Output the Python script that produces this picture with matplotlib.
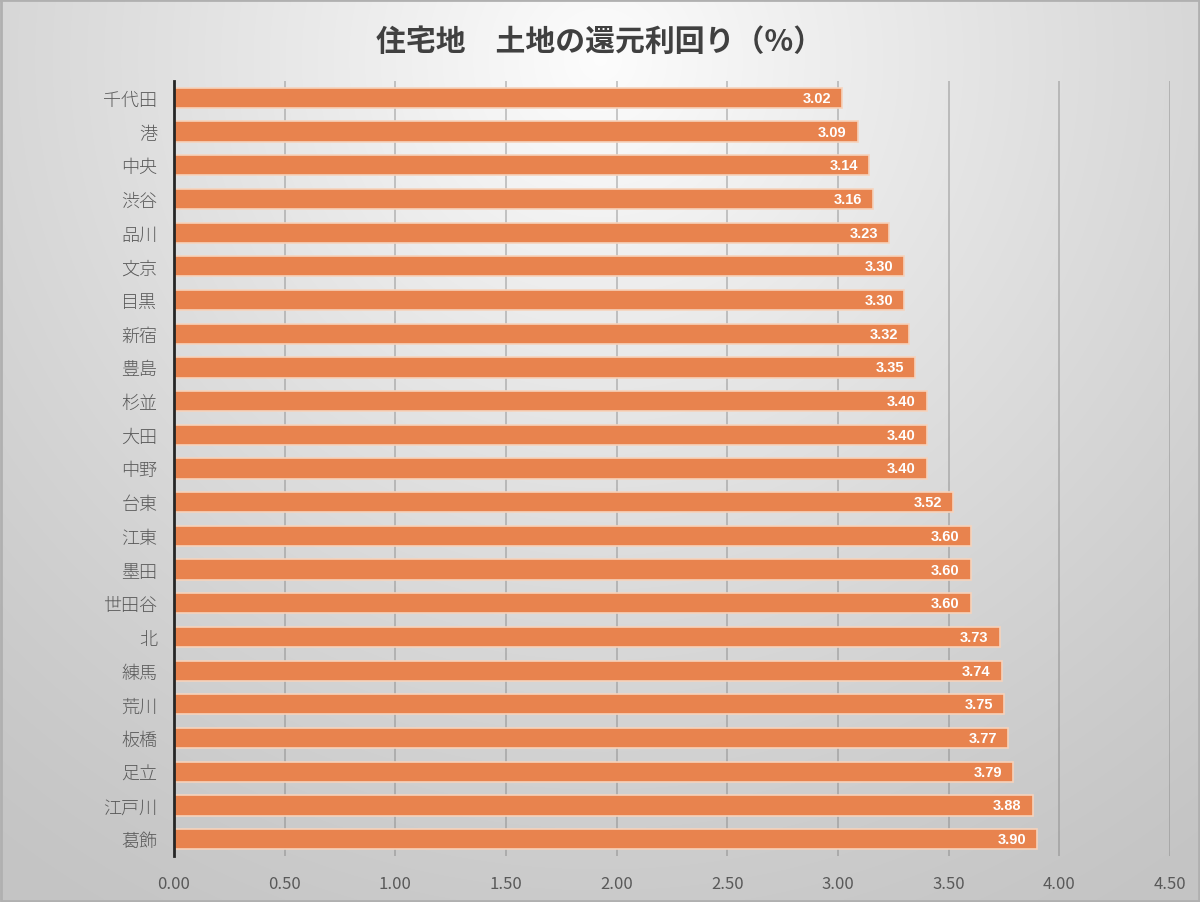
import numpy as np
import matplotlib
matplotlib.use("Agg")
import matplotlib.pyplot as plt

plt.rcParams['font.family'] = ['Noto Sans CJK JP', 'DejaVu Sans']

categories = ["千代田", "港", "中央", "渋谷", "品川", "文京", "目黒", "新宿", "豊島", "杉並",
              "大田", "中野", "台東", "江東", "墨田", "世田谷", "北", "練馬", "荒川", "板橋",
              "足立", "江戸川", "葛飾"]
values = [3.02, 3.09, 3.14, 3.16, 3.23, 3.30, 3.30, 3.32, 3.35, 3.40,
          3.40, 3.40, 3.52, 3.60, 3.60, 3.60, 3.73, 3.74, 3.75, 3.77,
          3.79, 3.88, 3.90]
xticks = [0.0, 0.5, 1.0, 1.5, 2.0, 2.5, 3.0, 3.5, 4.0, 4.5]
title = "住宅地　土地の還元利回り（%）"

W, H = 1200, 903
fig = plt.figure(figsize=(W / 100, H / 100), dpi=100)

# radial gradient background
bg = fig.add_axes([0, 0, 1, 1], zorder=-10)
yy, xx = np.mgrid[0:H, 0:W]
r = np.sqrt(((xx - 600) / 1.0) ** 2 + ((yy - 60) / 1.0) ** 2) / 1000.0
r = np.clip(r, 0, 1)
lo, hi = 0.99, 0.77
val = hi + (lo - hi) * (1 - r) ** 1.2
img = np.dstack([val, val, val])
bg.imshow(img, aspect='auto', extent=[0, W, H, 0], interpolation='bilinear')
bg.plot([1, W - 1, W - 1, 1, 1], [1, 1, H - 1, H - 1, 1], color='#b0b0b0', lw=2)
bg.set_xlim(0, W)
bg.set_ylim(H, 0)
bg.axis('off')

ax = fig.add_axes([174 / W, 1 - 857 / H, (1170 - 174) / W, (857 - 82) / H])
ax.patch.set_alpha(0)

y = np.arange(len(categories))
ax.barh(y, values, height=0.6, color='#E8834E', edgecolor='#F6D3BC', linewidth=1.2, zorder=3)
ax.set_ylim(len(categories) - 0.5, -0.5)
ax.set_yticks(y)
ax.set_yticklabels(categories, fontsize=13, color='#595959', fontweight='light')
ax.set_xlim(0, 4.5)
ax.set_xticks(xticks)
ax.set_xticklabels([f"{v:.2f}" for v in xticks], fontsize=12, color='#595959')
ax.tick_params(axis='y', length=0, pad=12)
ax.tick_params(axis='x', length=0, pad=14)

for xv in xticks[1:]:
    ax.axvline(xv, color='#7a7a7a', lw=1.1, alpha=0.5, zorder=1)

for s in ['top', 'right', 'bottom']:
    ax.spines[s].set_visible(False)
ax.spines['left'].set_color('#262626')
ax.spines['left'].set_linewidth(2)
ax.spines['left'].set_zorder(5)

for yi, v in zip(y, values):
    ax.annotate(f"{v:.2f}", xy=(v, yi), xytext=(-8, 0), textcoords='offset points',
                ha='right', va='center', color='white', fontsize=10.5, fontweight='bold',
                family=['Liberation Sans', 'DejaVu Sans'], zorder=4)

fig.text(0.5, 1 - 42 / H, title, ha='center', va='center', fontsize=21.5,
         fontweight='bold', color='#404040')

fig.savefig("out.png", dpi=100)
